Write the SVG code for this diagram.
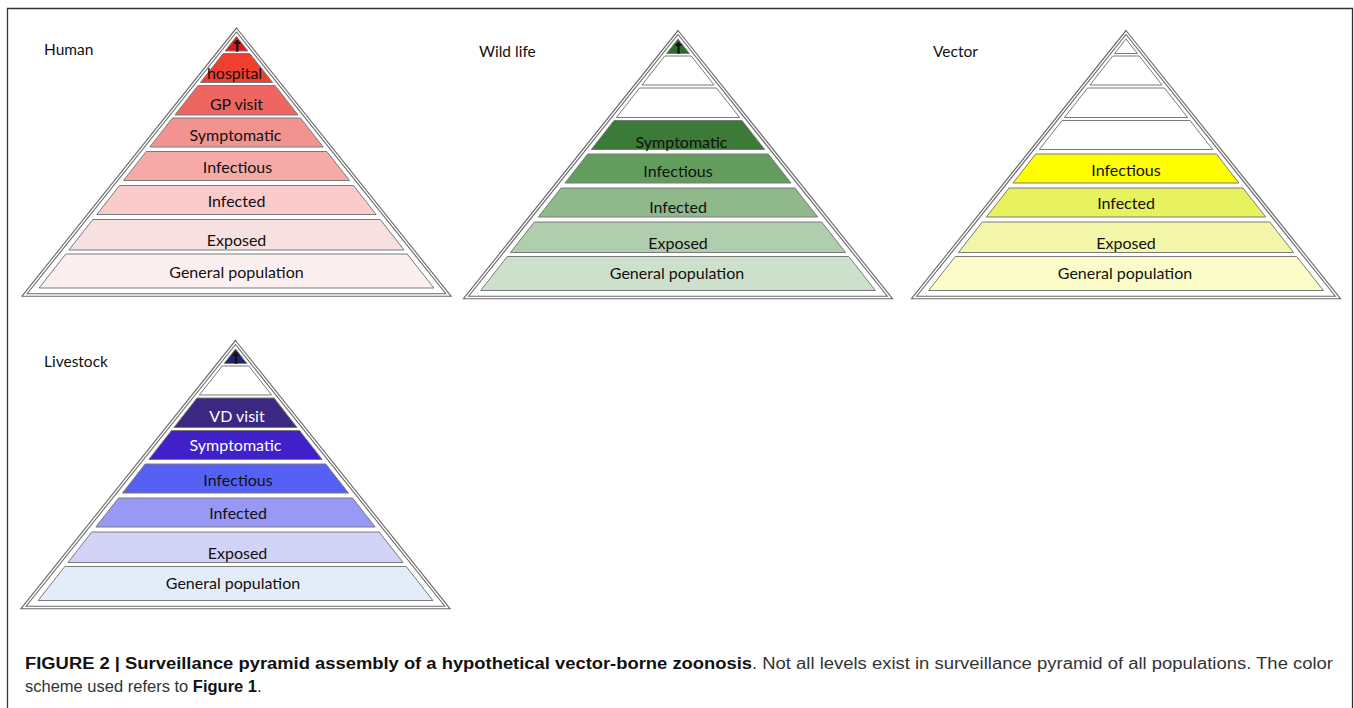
<svg xmlns="http://www.w3.org/2000/svg" xmlns:xlink="http://www.w3.org/1999/xlink" width="1354" height="708" viewBox="0 0 1354 708">
<style>
  .lbl{font-family:Lato,"Liberation Sans",sans-serif;font-size:16px;fill:#111;text-anchor:middle}
  .wt{fill:#fff}
  .ttl{font-family:Lato,"Liberation Sans",sans-serif;font-size:15.5px;fill:#111}
  .dag{font-family:"DejaVu Sans",sans-serif;font-size:14px;font-weight:bold;fill:#111;text-anchor:middle}
  .band{stroke:#7a7a7a;stroke-width:1}
  .outer{fill:#fff;stroke:#6a6a6a;stroke-width:3.6;stroke-linejoin:miter}
  .inner{fill:none;stroke:#fff;stroke-width:1.4;stroke-linejoin:miter}
  .cap{font-family:"Liberation Sans",Arial,sans-serif;font-size:16px}
  .capb{font-weight:bold;fill:#111}
  .capr{fill:#333}
</style>
<defs>
  <polygon id="tri" points="0,0 212,265 -212,265"/>
  <polygon id="b1" class="band" points="0,6.5 11.4,21 -11.4,21"/>
  <polygon id="b2" class="band" points="-13.3,23.5 13.3,23.5 36.1,52.5 -36.1,52.5"/>
  <polygon id="b3" class="band" points="-38.5,55.5 38.5,55.5 61.6,85 -61.6,85"/>
  <polygon id="b4" class="band" points="-64,88 64,88 86.7,117 -86.7,117"/>
  <polygon id="b5" class="band" points="-90.3,121.5 90.3,121.5 113,150.5 -113,150.5"/>
  <polygon id="b6" class="band" points="-117,155.5 117,155.5 139.7,184.5 -139.7,184.5"/>
  <polygon id="b7" class="band" points="-143.7,189.5 143.7,189.5 167.6,220 -167.6,220"/>
  <polygon id="b8" class="band" points="-170.7,224 170.7,224 197.4,258 -197.4,258"/>
</defs>
<rect width="1354" height="708" fill="#fff"/>
<path d="M7.5,708 V8.5 H1352.5 V708" fill="none" stroke="#333" stroke-width="1.3"/>

<!-- Human -->
<g id="human">
  <text class="ttl" x="44" y="55">Human</text>
  <g transform="translate(236.5,30)">
    <use xlink:href="#tri" class="outer"/><use xlink:href="#tri" class="inner"/>
    <g id="human-death"><use xlink:href="#b1" fill="#e5161c"/><text class="dag" x="0.5" y="19.5">†</text></g>
    <g id="human-hospital"><use xlink:href="#b2" fill="#f03e2f"/><text class="lbl" x="-2" y="49">hospital</text></g>
    <g id="human-gp"><use xlink:href="#b3" fill="#ee6662"/><text class="lbl" x="0" y="80">GP visit</text></g>
    <g id="human-symptomatic"><use xlink:href="#b4" fill="#f29390"/><text class="lbl" x="-1" y="111">Symptomatic</text></g>
    <g id="human-infectious"><use xlink:href="#b5" fill="#f5aaa8"/><text class="lbl" x="1" y="142.5">Infectious</text></g>
    <g id="human-infected"><use xlink:href="#b6" fill="#f9cbcb"/><text class="lbl" x="0" y="177">Infected</text></g>
    <g id="human-exposed"><use xlink:href="#b7" fill="#f6e0e0"/><text class="lbl" x="0" y="216">Exposed</text></g>
    <g id="human-general"><use xlink:href="#b8" fill="#fcefef"/><text class="lbl" x="0" y="248">General population</text></g>
  </g>
</g>

<!-- Wild life -->
<g id="wildlife">
  <text class="ttl" x="479" y="56.5">Wild life</text>
  <g transform="translate(678,32.5)">
    <use xlink:href="#tri" class="outer"/><use xlink:href="#tri" class="inner"/>
    <g id="wild-death"><use xlink:href="#b1" fill="#2e6b2b"/><text class="dag" x="0.5" y="19.5">†</text></g>
    <g id="wild-l2"><use xlink:href="#b2" fill="#fff"/></g>
    <g id="wild-l3"><use xlink:href="#b3" fill="#fff"/></g>
    <g id="wild-symptomatic"><use xlink:href="#b4" fill="#3b7a37"/><text class="lbl" x="3.5" y="115">Symptomatic</text></g>
    <g id="wild-infectious"><use xlink:href="#b5" fill="#629d5e"/><text class="lbl" x="0" y="144.5">Infectious</text></g>
    <g id="wild-infected"><use xlink:href="#b6" fill="#8fb88b"/><text class="lbl" x="0" y="180.5">Infected</text></g>
    <g id="wild-exposed"><use xlink:href="#b7" fill="#b0cdae"/><text class="lbl" x="0" y="216">Exposed</text></g>
    <g id="wild-general"><use xlink:href="#b8" fill="#cde0cb"/><text class="lbl" x="-1" y="246.5">General population</text></g>
  </g>
</g>

<!-- Vector -->
<g id="vector">
  <text class="ttl" x="933" y="57">Vector</text>
  <g transform="translate(1126,32.5)">
    <use xlink:href="#tri" class="outer"/><use xlink:href="#tri" class="inner"/>
    <g id="vector-l1"><use xlink:href="#b1" fill="#fff"/></g>
    <g id="vector-l2"><use xlink:href="#b2" fill="#fff"/></g>
    <g id="vector-l3"><use xlink:href="#b3" fill="#fff"/></g>
    <g id="vector-l4"><use xlink:href="#b4" fill="#fff"/></g>
    <g id="vector-infectious"><use xlink:href="#b5" fill="#ffff00"/><text class="lbl" x="0" y="143">Infectious</text></g>
    <g id="vector-infected"><use xlink:href="#b6" fill="#e8f25f"/><text class="lbl" x="0" y="176.5">Infected</text></g>
    <g id="vector-exposed"><use xlink:href="#b7" fill="#f3f6a8"/><text class="lbl" x="0" y="216">Exposed</text></g>
    <g id="vector-general"><use xlink:href="#b8" fill="#fbfcc8"/><text class="lbl" x="-1" y="246.5">General population</text></g>
  </g>
</g>

<!-- Livestock -->
<g id="livestock">
  <text class="ttl" x="44" y="367">Livestock</text>
  <g transform="translate(235.5,342.5)">
    <use xlink:href="#tri" class="outer"/><use xlink:href="#tri" class="inner"/>
    <g id="live-death"><use xlink:href="#b1" fill="#1f2470"/><text class="dag wt" x="0.5" y="19.5">†</text></g>
    <g id="live-l2"><use xlink:href="#b2" fill="#fff"/></g>
    <g id="live-vd"><use xlink:href="#b3" fill="#3a2882"/><text class="lbl wt" x="1.5" y="79">VD visit</text></g>
    <g id="live-symptomatic"><use xlink:href="#b4" fill="#3f20c9"/><text class="lbl wt" x="0" y="108">Symptomatic</text></g>
    <g id="live-infectious"><use xlink:href="#b5" fill="#5561f5"/><text class="lbl" x="2.5" y="143.5">Infectious</text></g>
    <g id="live-infected"><use xlink:href="#b6" fill="#9898f6"/><text class="lbl" x="2.5" y="176.5">Infected</text></g>
    <g id="live-exposed"><use xlink:href="#b7" fill="#d2d3f6"/><text class="lbl" x="2" y="216">Exposed</text></g>
    <g id="live-general"><use xlink:href="#b8" fill="#e3edf9"/><text class="lbl" x="-2.5" y="246.5">General population</text></g>
  </g>
</g>

<!-- Caption -->
<g id="caption" class="cap">
  <text class="capb" x="25" y="669" textLength="727" lengthAdjust="spacingAndGlyphs">FIGURE 2 | Surveillance pyramid assembly of a hypothetical vector-borne zoonosis</text>
  <text class="capr" x="752" y="669" textLength="581" lengthAdjust="spacingAndGlyphs">. Not all levels exist in surveillance pyramid of all populations. The color</text>
  <text x="25" y="692" style="font-size:16.5px"><tspan class="capr">scheme used refers to </tspan><tspan class="capb">Figure 1</tspan><tspan class="capr">.</tspan></text>
</g>
</svg>
